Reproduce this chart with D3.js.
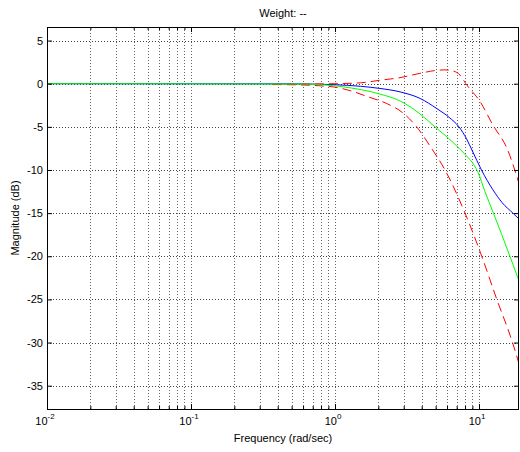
<!DOCTYPE html>
<html>
<head>
<meta charset="utf-8">
<script src="https://cdnjs.cloudflare.com/ajax/libs/d3/7.8.5/d3.min.js"></script>
<style>
  body { margin: 0; background: #fff; }
  text { font-family: "Liberation Sans", Arial, sans-serif; font-size: 11px; fill: #000; }
</style>
</head>
<body>
<div id="chart_div"></div>
<script>
/*
 * Data
 */
var gvBlueFreq  = [0.01, 0.5, 0.8, 1.0, 1.5, 2.05, 2.83, 3.89, 5.11, 6.2, 7.26, 8.2, 9.0, 10.4, 12.5, 14.5, 17.2, 19];
var gvBlueMag   = [0, -0.02, -0.07, -0.12, -0.3, -0.55, -0.95, -1.7, -2.9, -3.9, -5, -6.4, -7.8, -10, -12.3, -13.8, -15, -15.7];

var gvGreenFreq = [0.01, 0.6, 1.0, 1.3, 1.8, 2.05, 2.83, 3.89, 4.94, 6.6, 8.0, 9.3, 9.8, 11.0, 12.6, 16.4, 19];
var gvGreenMag  = [0, -0.05, -0.25, -0.5, -0.95, -1.2, -2.0, -3.5, -5, -6.8, -8.2, -9.5, -10.2, -12.5, -15, -20, -22.9];

var gvUpperFreq = [0.37, 0.6, 1.0, 1.5, 2.05, 2.83, 3.89, 5.11, 5.8, 6.5, 7.38, 8.1, 10.2, 12.5, 15.6, 19];
var gvUpperMag  = [-0.1, -0.05, 0, 0.1, 0.4, 0.7, 1.2, 1.55, 1.6, 1.5, 1.0, 0, -2.1, -4.8, -7.45, -11.6];

var gvLowerFreq = [0.37, 0.6, 0.8, 1.0, 1.27, 1.75, 2.29, 2.97, 3.69, 4.6, 5.81, 8.0, 10.45, 13.3, 17.1, 19];
var gvLowerMag  = [-0.1, -0.15, -0.25, -0.4, -0.8, -1.6, -2.3, -3.4, -5, -7.3, -10, -15, -20, -25, -30, -32.5];

var gvYTicks    = [-35, -30, -25, -20, -15, -10, -5, 0, 5];
var gvXDecades  = [-2, -1, 0, 1];

/*
 * Layout
 */
var gvWidth = 520, gvHeight = 452;
var gvLeft = 47, gvRight = 519, gvTop = 27, gvBottom = 409;

/*
 * Build the chart
 */
function buildChart() {

  var svg = d3.select('#chart_div')
    .append('svg')
    .attr('width', gvWidth)
    .attr('height', gvHeight);

  var x = d3.scaleLog().domain([0.01, 18.96]).range([gvLeft, gvRight]);
  var y = d3.scaleLinear().domain([-37.7, 6.57]).range([gvBottom, gvTop]);

  // major and minor tick positions on the log axis
  var lvMajor = gvXDecades.map(function(d) { return Math.pow(10, d); });
  var lvMinor = [];
  gvXDecades.forEach(function(d) {
    for (var m = 2; m <= 9; m++) {
      var v = m * Math.pow(10, d);
      if (v < x.domain()[1]) lvMinor.push(v);
    }
  });

  svg.append('defs').append('clipPath').attr('id', 'plotClip')
    .append('rect')
    .attr('x', gvLeft).attr('y', gvTop)
    .attr('width', gvRight - gvLeft).attr('height', gvBottom - gvTop);

  // grid
  var grid = svg.append('g').attr('class', 'grid');
  grid.selectAll('.vgrid')
    .data(lvMajor.concat(lvMinor))
    .enter().append('line')
    .attr('x1', function(d) { return Math.round(x(d)) + 0.5; })
    .attr('x2', function(d) { return Math.round(x(d)) + 0.5; })
    .attr('y1', gvTop).attr('y2', gvBottom)
    .attr('stroke', '#666').attr('stroke-dasharray', '1,2');
  grid.selectAll('.hgrid')
    .data(gvYTicks)
    .enter().append('line')
    .attr('y1', function(d) { return Math.round(y(d)) + 0.5; })
    .attr('y2', function(d) { return Math.round(y(d)) + 0.5; })
    .attr('x1', gvLeft).attr('x2', gvRight)
    .attr('stroke', '#444').attr('stroke-dasharray', '1,2');

  // curves
  var line = function(pvFreq) {
    return d3.line()
      .x(function(d, i) { return x(pvFreq[i]); })
      .y(function(d) { return y(d); })
      .curve(d3.curveMonotoneX);
  };

  var curves = svg.append('g').attr('clip-path', 'url(#plotClip)');
  curves.append('path').attr('d', line(gvBlueFreq)(gvBlueMag))
    .attr('fill', 'none').attr('stroke', '#0000ff').attr('stroke-width', 1);
  curves.append('path').attr('d', line(gvLowerFreq)(gvLowerMag))
    .attr('fill', 'none').attr('stroke', '#ff0000').attr('stroke-width', 1)
    .attr('stroke-dasharray', '9,5');
  curves.append('path').attr('d', line(gvUpperFreq)(gvUpperMag))
    .attr('fill', 'none').attr('stroke', '#ff0000').attr('stroke-width', 1)
    .attr('stroke-dasharray', '9,5');
  curves.append('path').attr('d', line(gvGreenFreq)(gvGreenMag))
    .attr('fill', 'none').attr('stroke', '#00ff00').attr('stroke-width', 1);

  // axes (ticks pointing in, on all four sides)
  var axB = svg.append('g').attr('transform', 'translate(0,' + gvBottom + ')')
    .call(d3.axisBottom(x).tickValues(lvMajor).tickSize(-5).tickFormat(''));
  var axBm = svg.append('g').attr('transform', 'translate(0,' + gvBottom + ')')
    .call(d3.axisBottom(x).tickValues(lvMinor).tickSize(-3).tickFormat(''));
  var axT = svg.append('g').attr('transform', 'translate(0,' + gvTop + ')')
    .call(d3.axisTop(x).tickValues(lvMajor).tickSize(-5).tickFormat(''));
  var axTm = svg.append('g').attr('transform', 'translate(0,' + gvTop + ')')
    .call(d3.axisTop(x).tickValues(lvMinor).tickSize(-3).tickFormat(''));
  var axL = svg.append('g').attr('transform', 'translate(' + gvLeft + ',0)')
    .call(d3.axisLeft(y).tickValues(gvYTicks).tickSize(-5).tickFormat(''));
  var axR = svg.append('g').attr('transform', 'translate(' + gvRight + ',0)')
    .call(d3.axisRight(y).tickValues(gvYTicks).tickSize(-5).tickFormat(''));
  [axB, axBm, axT, axTm, axL, axR].forEach(function(g) {
    g.select('.domain').remove();
    g.selectAll('line').attr('stroke', '#000');
  });

  // box
  svg.append('rect')
    .attr('x', gvLeft + 0.5).attr('y', gvTop + 0.5)
    .attr('width', gvRight - gvLeft - 1).attr('height', gvBottom - gvTop)
    .attr('fill', 'none').attr('stroke', '#000');

  // y tick labels
  svg.selectAll('.ylab')
    .data(gvYTicks)
    .enter().append('text')
    .attr('x', gvLeft - 4)
    .attr('y', function(d) { return y(d) + 4; })
    .attr('text-anchor', 'end')
    .text(function(d) { return d; });

  // x tick labels, 10 with exponent
  var xl = svg.selectAll('.xlab')
    .data(gvXDecades)
    .enter().append('text')
    .attr('x', function(d) { return x(Math.pow(10, d)) - 2; })
    .attr('y', gvBottom + 16)
    .attr('text-anchor', 'middle');
  xl.append('tspan').text('10');
  xl.append('tspan').attr('dy', -6).style('font-size', '8px').text(function(d) { return d; });

  // titles
  svg.append('text')
    .attr('x', (gvLeft + gvRight) / 2).attr('y', 17)
    .attr('text-anchor', 'middle')
    .text('Weight: --');
  svg.append('text')
    .attr('x', (gvLeft + gvRight) / 2).attr('y', 442)
    .attr('text-anchor', 'middle')
    .text('Frequency (rad/sec)');
  svg.append('text')
    .attr('transform', 'translate(19,' + ((gvTop + gvBottom) / 2) + ') rotate(-90)')
    .attr('text-anchor', 'middle')
    .text('Magnitude (dB)');
}

buildChart();
</script>
</body>
</html>
